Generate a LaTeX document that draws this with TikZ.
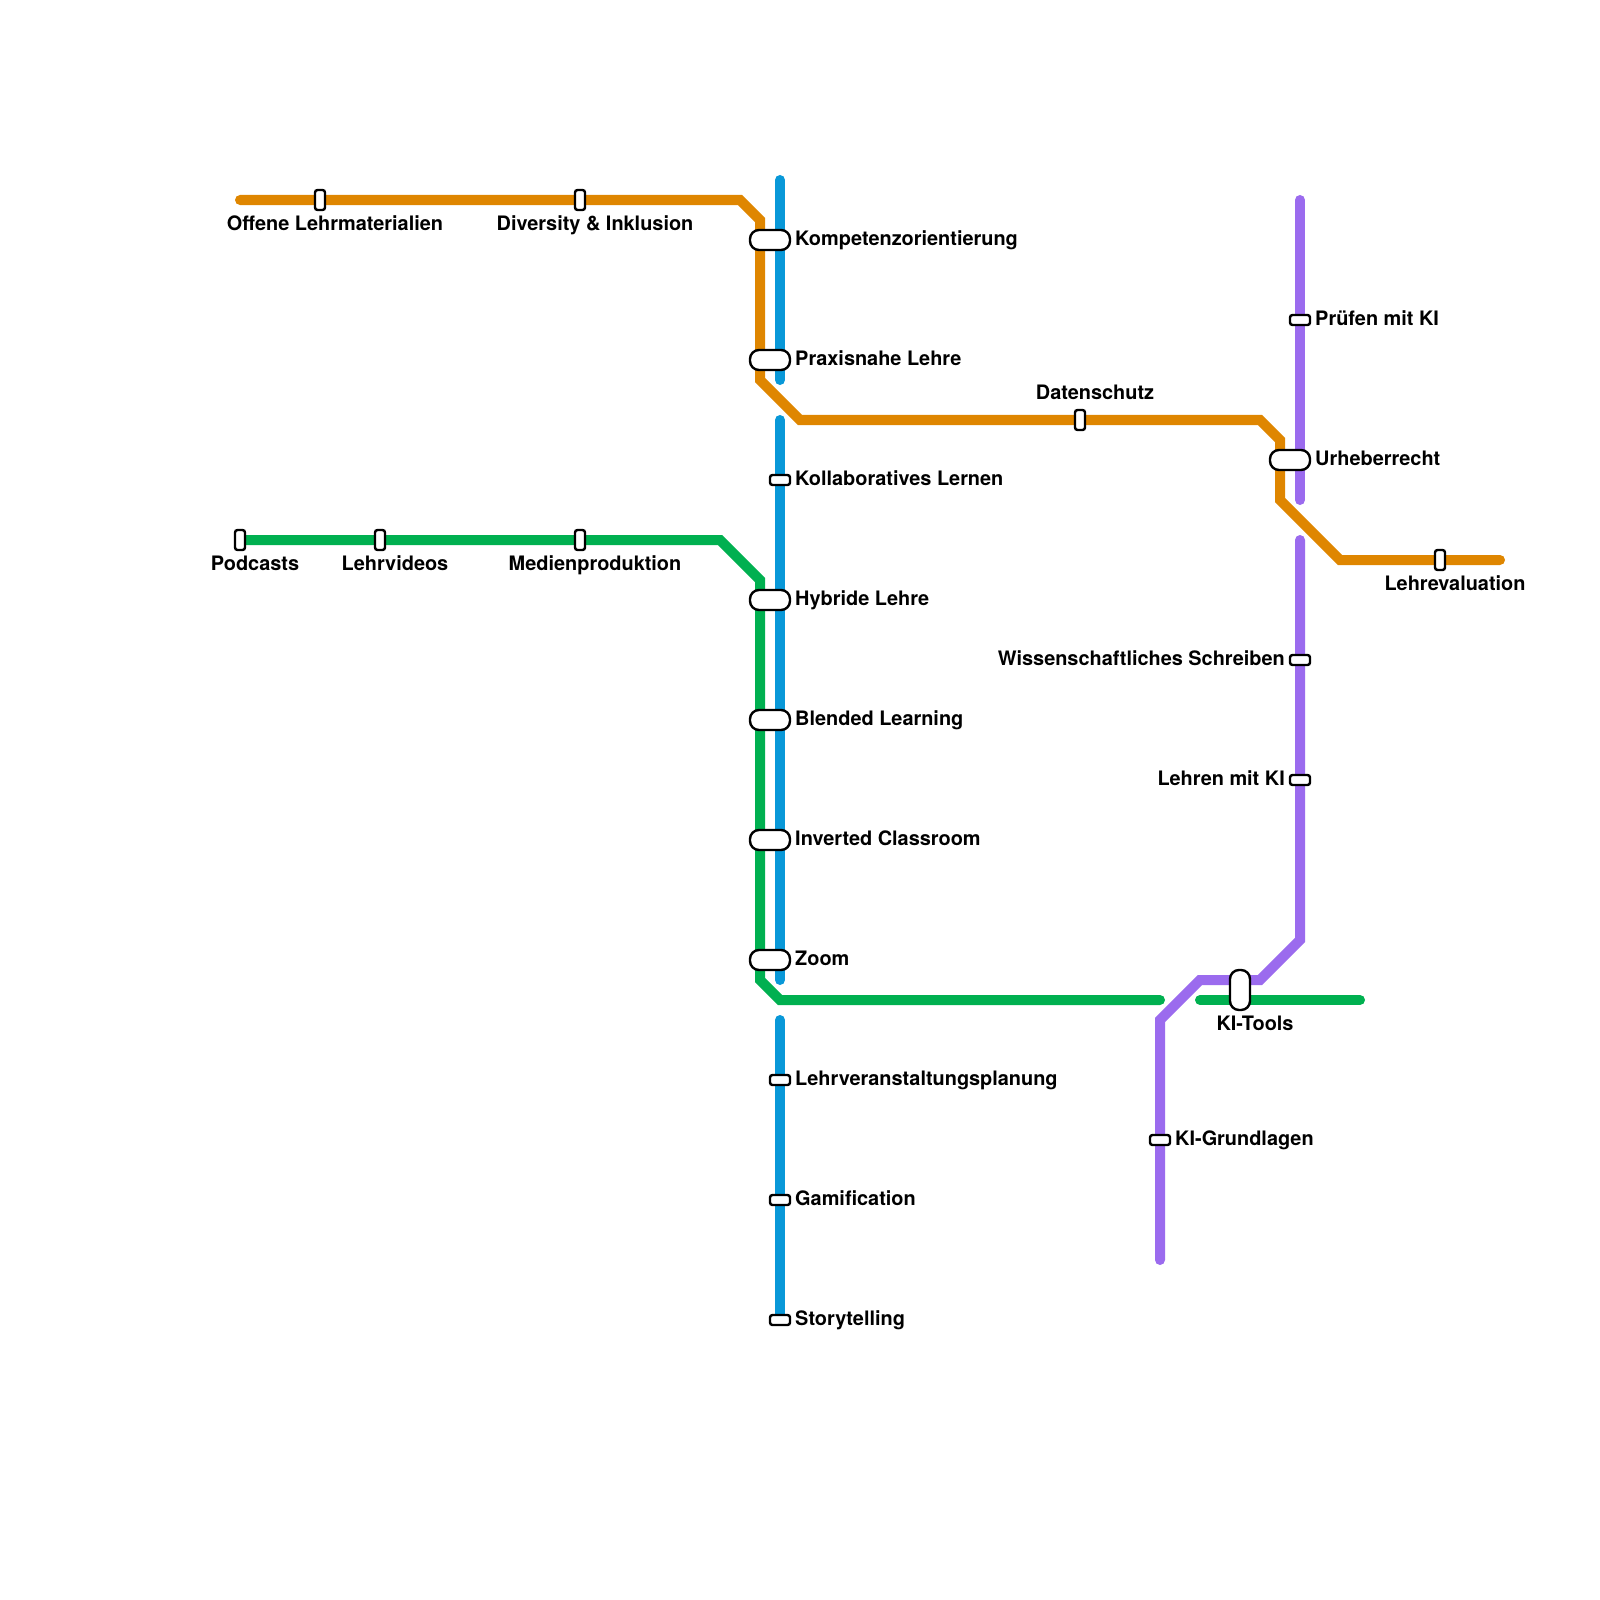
\documentclass[tikz,border=0pt]{standalone}
\usepackage{fontspec}
\setmainfont{TeX Gyre Heros}
\usepackage{xcolor}
\usetikzlibrary{calc, positioning}

\definecolor{linieorange}{HTML}{DF8600}
\definecolor{linieblau}{HTML}{0998D8}
\definecolor{liniegruen}{HTML}{00B050}
\definecolor{linielila}{HTML}{9B6BEE}

\tikzset{
    linie/.style={line width=0.1cm, line cap=round},
    halt/.style={draw=black, fill=white, line width=0.024cm, inner sep=0pt},
    breit/.style={halt, minimum width=0.4cm, minimum height=0.2cm, rounded corners=0.09cm},
    quer/.style={halt, minimum width=0.2cm, minimum height=0.1cm, rounded corners=0.025cm},
    hoch/.style={halt, minimum width=0.1cm, minimum height=0.2cm, rounded corners=0.025cm},
    lang/.style={halt, minimum width=0.2cm, minimum height=0.4cm, rounded corners=0.09cm},
    schrift/.style={inner sep=0pt, text height=0.145cm, text depth=0.04cm,
        font=\bfseries\fontsize{5.66pt}{6.5pt}\selectfont},
    rechts/.style={schrift, right=0.033cm of #1, yshift=-0.005cm},
    links/.style={schrift, left=0.033cm of #1, yshift=-0.005cm},
    unten/.style={schrift, below=0.04cm of #1, xshift=0.15cm},
    oben/.style={schrift, above=0.05cm of #1, xshift=0.15cm},
}

\begin{document}
\begin{tikzpicture}[x=0.01cm, y=-0.01cm]

    \useasboundingbox (0,0) rectangle (1600,1600);

    % =================================================================
    % Orange Linie
    % =================================================================
    \coordinate (o1) at (240,200);
    \coordinate (o2) at (740,200);
    \coordinate (o3) at (760,220);
    \coordinate (o4) at (760,380);
    \coordinate (o5) at (800,420);
    \coordinate (o6) at (1260,420);
    \coordinate (o7) at (1280,440);
    \coordinate (o8) at (1280,500);
    \coordinate (o9) at (1340,560);
    \coordinate (o10) at (1500,560);
    \draw[linie, linieorange] (o1) -- (o2) -- (o3) -- (o4) -- (o5) -- (o6) -- (o7) -- (o8) -- (o9) -- (o10);

    % =================================================================
    % Blaue Linie, dreimal unterbrochen
    % =================================================================
    \coordinate (b1) at (780,180);
    \coordinate (b2) at (780,380);
    \coordinate (b3) at (780,420);
    \coordinate (b4) at (780,980);
    \coordinate (b5) at (780,1020);
    \coordinate (b6) at (780,1320);
    \draw[linie, linieblau] (b1) -- (b2);
    \draw[linie, linieblau] (b3) -- (b4);
    \draw[linie, linieblau] (b5) -- (b6);

    % =================================================================
    % Gruene Linie
    % =================================================================
    \coordinate (g1) at (240,540);
    \coordinate (g2) at (720,540);
    \coordinate (g3) at (760,580);
    \coordinate (g4) at (760,980);
    \coordinate (g5) at (780,1000);
    \coordinate (g6) at (1160,1000);
    \coordinate (g7) at (1200,1000);
    \coordinate (g8) at (1360,1000);
    \draw[linie, liniegruen] (g1) -- (g2) -- (g3) -- (g4) -- (g5) -- (g6);
    \draw[linie, liniegruen] (g7) -- (g8);

    % =================================================================
    % Lila Linie
    % =================================================================
    \coordinate (l1) at (1300,200);
    \coordinate (l2) at (1300,500);
    \coordinate (l3) at (1300,540);
    \coordinate (l4) at (1300,940);
    \coordinate (l5) at (1260,980);
    \coordinate (l6) at (1200,980);
    \coordinate (l7) at (1160,1020);
    \coordinate (l8) at (1160,1260);
    \draw[linie, linielila] (l1) -- (l2);
    \draw[linie, linielila] (l3) -- (l4) -- (l5) -- (l6) -- (l7) -- (l8);

    % Haltestellen oben links
    \node[hoch] (offene) at (320,200) {};
    \node[hoch] (diversity) at (580,200) {};
    \node[hoch] (podcasts) at (240,540) {};
    \node[hoch] (lehrvideos) at (380,540) {};
    \node[hoch] (medien) at (580,540) {};
    \node[unten=offene] (offenetext) {Offene Lehrmaterialien};
    \node[unten=diversity] (diversitytext) {Diversity \& Inklusion};
    \node[unten=podcasts] (podcaststext) {Podcasts};
    \node[unten=lehrvideos] (lehrvideostext) {Lehrvideos};
    \node[unten=medien] (medientext) {Medienproduktion};

    % Haltestellen der Mittelachse
    \node[breit] (kompetenz) at (770,240) {};
    \node[breit] (praxis) at (770,360) {};
    \node[quer] (kollab) at (780,480) {};
    \node[breit] (hybrid) at (770,600) {};
    \node[breit] (blended) at (770,720) {};
    \node[breit] (inverted) at (770,840) {};
    \node[breit] (zoom) at (770,960) {};
    \node[quer] (planung) at (780,1080) {};
    \node[quer] (gamification) at (780,1200) {};
    \node[quer] (story) at (780,1320) {};
    \node[rechts=kompetenz] (kompetenztext) {Kompetenzorientierung};
    \node[rechts=praxis] (praxistext) {Praxisnahe Lehre};
    \node[rechts=kollab] (kollabtext) {Kollaboratives Lernen};
    \node[rechts=hybrid] (hybridtext) {Hybride Lehre};
    \node[rechts=blended] (blendedtext) {Blended Learning};
    \node[rechts=inverted] (invertedtext) {Inverted Classroom};
    \node[rechts=zoom] (zoomtext) {Zoom};
    \node[rechts=planung] (planungtext) {Lehrveranstaltungsplanung};
    \node[rechts=gamification] (gamificationtext) {Gamification};
    \node[rechts=story] (storytext) {Storytelling};

    % Haltestellen rechts
    \node[hoch] (datenschutz) at (1080,420) {};
    \node[hoch] (evaluation) at (1440,560) {};
    \node[quer] (pruefen) at (1300,320) {};
    \node[breit] (urheber) at (1290,460) {};
    \node[quer] (schreiben) at (1300,660) {};
    \node[quer] (lehren) at (1300,780) {};
    \node[lang] (tools) at (1240,990) {};
    \node[quer] (grundlagen) at (1160,1140) {};
    \node[oben=datenschutz] (datenschutztext) {Datenschutz};
    \node[unten=evaluation] (evaluationtext) {Lehrevaluation};
    \node[rechts=pruefen] (pruefentext) {Prüfen mit KI};
    \node[rechts=urheber] (urhebertext) {Urheberrecht};
    \node[links=schreiben] (schreibentext) {Wissenschaftliches Schreiben};
    \node[links=lehren] (lehrentext) {Lehren mit KI};
    \node[unten=tools] (toolstext) {KI-Tools};
    \node[rechts=grundlagen] (grundlagentext) {KI-Grundlagen};

\end{tikzpicture}
\end{document}
